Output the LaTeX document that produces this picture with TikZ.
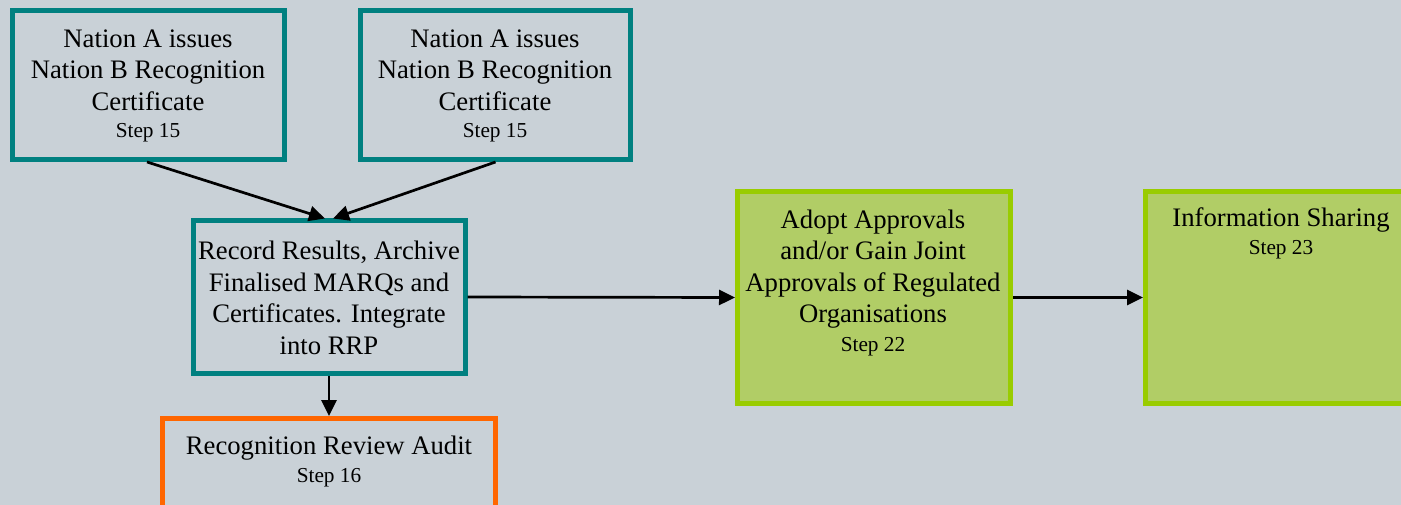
\documentclass[tikz,border=0pt]{standalone}
\usepackage{fontspec}
\setmainfont{Liberation Serif}
\usetikzlibrary{arrows.meta}
\definecolor{canvas}{RGB}{201,209,215}
\definecolor{tealline}{RGB}{0,128,128}
\definecolor{orangeline}{RGB}{255,102,0}
\definecolor{greenline}{RGB}{153,204,0}
\definecolor{greenfill}{RGB}{177,205,102}
\tikzset{
  procbox/.style={draw=tealline, line width=5pt, fill=canvas, rectangle, inner sep=0pt},
  auditbox/.style={draw=orangeline, line width=5pt, fill=canvas, rectangle, inner sep=0pt},
  greenbox/.style={draw=greenline, line width=5pt, fill=greenfill, rectangle, inner sep=0pt},
  title/.style={anchor=base, align=center, inner sep=0pt, font=\fontsize{26.7}{31.6}\selectfont},
  steplabel/.style={anchor=base, inner sep=0pt, font=\fontsize{21.3}{24}\selectfont},
  flow/.style={line width=2.7pt, -{Triangle[length=16pt,width=15pt]}}
}
\begin{document}
\begin{tikzpicture}[x=1pt,y=-1pt]
\useasboundingbox (0,0) rectangle (1401,505);
\fill[canvas] (0,0) rectangle (1401,505);
\clip (0,0) rectangle (1401,505);

% boxes
\node[procbox, minimum width=272pt, minimum height=149pt] (cert1) at (148.5,85) {};
\node[procbox, minimum width=270pt, minimum height=149pt] (cert2) at (495.5,85) {};
\node[procbox, minimum width=272pt, minimum height=152pt] (rec) at (329,297) {};
\node[auditbox, minimum width=333pt, minimum height=120pt] (audit) at (329,478.5) {};
\node[greenbox, minimum width=273pt, minimum height=212pt] (adopt) at (874,297.5) {};
\node[greenbox, minimum width=300pt, minimum height=212pt] (share) at (1295.5,297.5) {};

% texts (multi-line titles are placed by the baseline of their last line)
\node[title] (cert1t) at (148,110.5) {Nation A issues\\Nation B Recognition\\Certificate};
\node[steplabel] (cert1s) at (148,138) {Step 15};
\node[title] (cert2t) at (495,110.5) {Nation A issues\\Nation B Recognition\\Certificate};
\node[steplabel] (cert2s) at (495,138) {Step 15};
\node[title] (rect) at (329,354.5) {Record Results, Archive\\Finalised MARQs and\\Certificates. Integrate\\into RRP};
\node[title] (auditt) at (329,454.5) {Recognition Review Audit};
\node[steplabel] (audits) at (329,482) {Step 16};
\node[title] (adoptt) at (873,323) {Adopt Approvals\\and/or Gain Joint\\Approvals of Regulated\\Organisations};
\node[steplabel] (adopts) at (873,351) {Step 22};
\node[title] (sharet) at (1281,227) {Information Sharing};
\node[steplabel] (shares) at (1281,255) {Step 23};

% connectors
\draw[flow] ([xshift=-1.5pt]cert1.south) -- ([xshift=-4pt]rec.north);
\draw[flow] (cert2.south) -- ([xshift=4pt]rec.north);
\draw[flow] (rec.east) -- (adopt.west);
\draw[flow] (adopt.east) -- (share.west);
\draw[flow] (rec.south) -- (audit.north);
\end{tikzpicture}
\end{document}
